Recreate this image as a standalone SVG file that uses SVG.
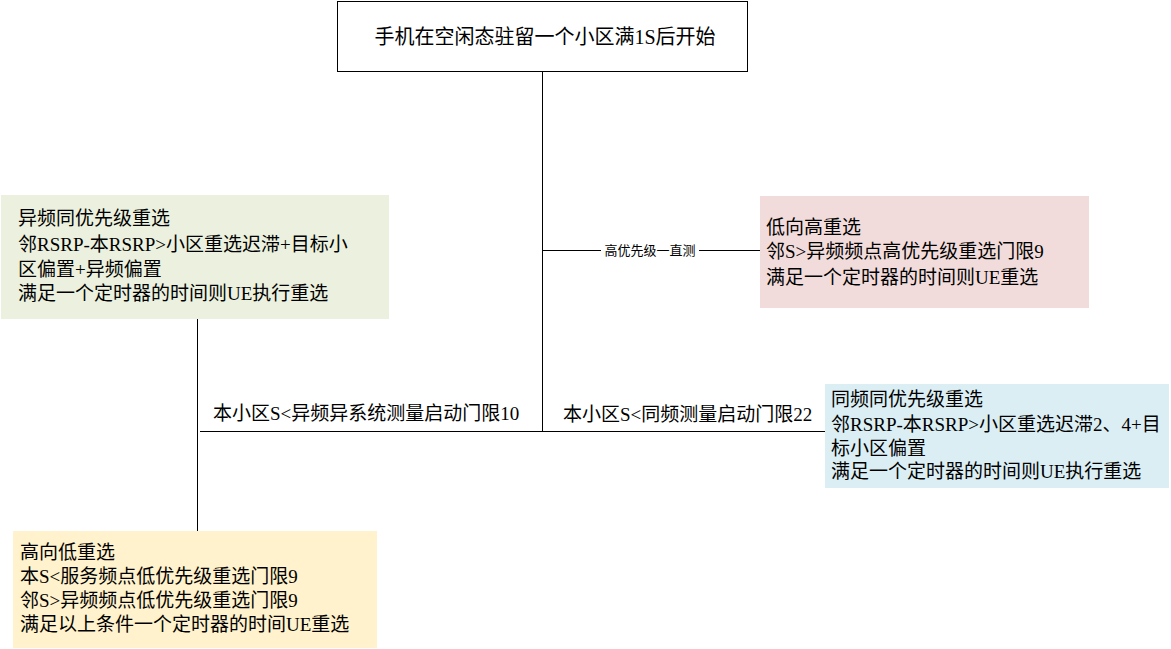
<svg xmlns="http://www.w3.org/2000/svg" width="1171" height="649" viewBox="0 0 1171 649">
<style>
.t{font-family:"Liberation Serif","Noto Sans CJK SC",serif;font-size:19px;fill:#000}
.c{stroke:#000;stroke-width:1;fill:none}
.lbl{font-family:"Noto Sans CJK SC",sans-serif;font-size:13px;fill:#000}
</style>
<rect width="1171" height="649" fill="#fff"/>
<g id="connectors">
<line class="c" x1="542.5" y1="72" x2="542.5" y2="431.5"/>
<line class="c" x1="542.5" y1="250.5" x2="760" y2="250.5"/>
<rect x="601" y="240" width="98" height="20" fill="#fff"/>
<text class="lbl" x="650" y="255" text-anchor="middle">高优先级一直测</text>
<line class="c" x1="200" y1="431.5" x2="825" y2="431.5"/>
<line class="c" x1="197.5" y1="319" x2="197.5" y2="531"/>
<text class="t" x="213" y="420">本小区S&lt;异频异系统测量启动门限10</text>
<text class="t" x="563" y="421">本小区S&lt;同频测量启动门限22</text>
</g>
<g id="start">
<rect x="337.5" y="1.5" width="410" height="70" fill="#fff" stroke="#000"/>
<text class="t" x="545" y="44" text-anchor="middle" style="font-size:20px">手机在空闲态驻留一个小区满1S后开始</text>
</g>
<g id="low-to-high">
<rect x="760" y="196" width="329" height="112" fill="#f2dcdb"/>
<text class="t" x="766" y="234">低向高重选</text>
<text class="t" x="766" y="258">邻S&gt;异频频点高优先级重选门限9</text>
<text class="t" x="766" y="284">满足一个定时器的时间则UE重选</text>
</g>
<g id="inter-freq-same">
<rect x="1" y="195" width="388" height="124" fill="#ebf1de"/>
<text class="t" x="18" y="225">异频同优先级重选</text>
<text class="t" x="18" y="251">邻RSRP-本RSRP&gt;小区重选迟滞+目标小</text>
<text class="t" x="18" y="276">区偏置+异频偏置</text>
<text class="t" x="18" y="300">满足一个定时器的时间则UE执行重选</text>
</g>
<g id="intra-freq-same">
<rect x="825" y="384" width="344" height="104" fill="#dbeef4"/>
<text class="t" x="831" y="406">同频同优先级重选</text>
<text class="t" x="831" y="431">邻RSRP-本RSRP&gt;小区重选迟滞2、4+目</text>
<text class="t" x="831" y="455">标小区偏置</text>
<text class="t" x="831" y="478">满足一个定时器的时间则UE执行重选</text>
</g>
<g id="high-to-low">
<rect x="13" y="531" width="364" height="117" fill="#fff2cc"/>
<text class="t" x="20" y="559">高向低重选</text>
<text class="t" x="20" y="583">本S&lt;服务频点低优先级重选门限9</text>
<text class="t" x="20" y="607">邻S&gt;异频频点低优先级重选门限9</text>
<text class="t" x="20" y="631">满足以上条件一个定时器的时间UE重选</text>
</g>
</svg>
